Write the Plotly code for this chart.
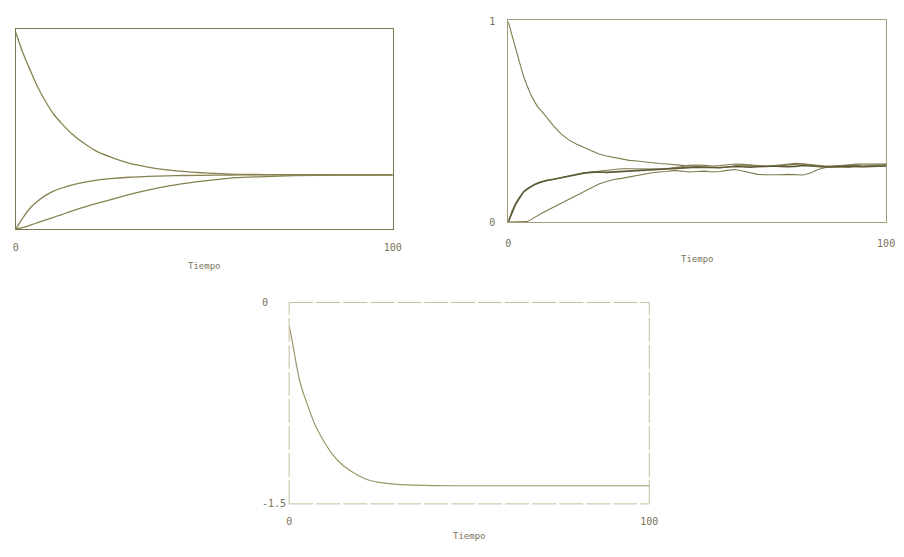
import plotly.graph_objects as go

# ---------------- data ----------------
# Panel 1
t1 = [0, 2, 4, 6, 8, 10, 12, 15, 18, 21, 25, 30, 35, 40, 45, 50, 55, 60, 70, 80, 90, 100]
p1_top = [1.0, 0.89, 0.80, 0.715, 0.645, 0.585, 0.54, 0.482, 0.437, 0.40, 0.367, 0.335,
          0.315, 0.301, 0.292, 0.285, 0.281, 0.278, 0.276, 0.275, 0.275, 0.275]
p1_mid = [0.0, 0.06, 0.11, 0.145, 0.172, 0.192, 0.207, 0.224, 0.237, 0.247, 0.256, 0.263,
          0.267, 0.270, 0.272, 0.273, 0.274, 0.275, 0.275, 0.275, 0.275, 0.275]
p1_low = [0.0, 0.008, 0.02, 0.033, 0.046, 0.059, 0.072, 0.092, 0.11, 0.127, 0.148, 0.175,
          0.198, 0.217, 0.232, 0.245, 0.255, 0.262, 0.269, 0.273, 0.274, 0.275]

# Panel 2
t2 = [0, 1, 2, 3, 4, 5, 6, 7, 8, 9, 10, 12, 14, 16, 18, 20, 22, 24, 26, 28, 30, 32, 34, 36,
      38, 40, 42, 44, 46, 48, 50, 52, 54, 56, 58, 60, 62, 64, 66, 68, 70, 72, 74, 76, 78,
      80, 82, 84, 86, 88, 90, 92, 94, 96, 98, 100]
p2_a = [1.0, 0.93, 0.86, 0.79, 0.73, 0.68, 0.635, 0.60, 0.57, 0.55, 0.525, 0.48, 0.44, 0.41,
        0.39, 0.372, 0.355, 0.34, 0.33, 0.322, 0.315, 0.308, 0.305, 0.30, 0.296, 0.292, 0.29,
        0.288, 0.283, 0.28, 0.278, 0.276, 0.272, 0.27, 0.275, 0.28, 0.285, 0.283, 0.278,
        0.276, 0.278, 0.282, 0.285, 0.288, 0.29, 0.284, 0.278, 0.276, 0.278, 0.282, 0.285,
        0.283, 0.28, 0.282, 0.285, 0.288]
p2_b = [0.0, 0.05, 0.09, 0.12, 0.15, 0.165, 0.178, 0.188, 0.196, 0.202, 0.207, 0.214, 0.222,
        0.23, 0.238, 0.244, 0.248, 0.25, 0.248, 0.25, 0.252, 0.255, 0.258, 0.26, 0.262, 0.265,
        0.266, 0.268, 0.27, 0.272, 0.274, 0.273, 0.271, 0.272, 0.275, 0.278, 0.276, 0.274,
        0.276, 0.279, 0.28, 0.278, 0.276, 0.278, 0.282, 0.28, 0.277, 0.275, 0.276, 0.279,
        0.28, 0.278, 0.276, 0.278, 0.28, 0.28]
p2_c = [0.0, 0.055, 0.095, 0.125, 0.148, 0.163, 0.176, 0.186, 0.194, 0.2, 0.205, 0.213, 0.222,
        0.231, 0.24, 0.246, 0.25, 0.254, 0.26, 0.264, 0.266, 0.266, 0.265, 0.265, 0.266, 0.265,
        0.266, 0.27, 0.277, 0.283, 0.285, 0.283, 0.28, 0.282, 0.286, 0.29, 0.288, 0.284, 0.28,
        0.279, 0.281, 0.285, 0.29, 0.293, 0.291, 0.287, 0.283, 0.28, 0.279, 0.281, 0.285,
        0.289, 0.291, 0.29, 0.289, 0.29]
p2_d = [0.0, 0.0, 0.0, 0.0, 0.0, 0.002, 0.012, 0.024, 0.035, 0.045, 0.055, 0.074, 0.094, 0.112,
        0.13, 0.148, 0.168, 0.19, 0.202, 0.212, 0.218, 0.225, 0.232, 0.24, 0.246, 0.25, 0.252,
        0.258, 0.255, 0.25, 0.252, 0.254, 0.25, 0.252, 0.258, 0.262, 0.255, 0.245, 0.238,
        0.236, 0.235, 0.236, 0.238, 0.236, 0.235, 0.245, 0.262, 0.272, 0.275, 0.274, 0.273,
        0.276, 0.278, 0.277, 0.278, 0.28]

# Panel 3
t3 = [0, 1, 2, 3, 4, 5, 6, 7, 8, 10, 12, 14, 16, 18, 20, 22, 25, 30, 35, 40, 50, 60, 80, 100]
p3 = [-0.17, -0.31, -0.46, -0.59, -0.68, -0.755, -0.83, -0.9, -0.955, -1.05, -1.13, -1.19,
      -1.235, -1.27, -1.30, -1.322, -1.34, -1.355, -1.361, -1.364, -1.365, -1.365, -1.365,
      -1.365]

x_ticks = [0, 100]
x_ticktext = ["0", "100"]
y2_ticks = [0, 1]
y2_ticktext = ["0", "1"]
y3_ticks = [-1.5, 0]
y3_ticktext = ["-1.5", "0\u00a0\u00a0\u00a0"]
x_title = "Tiempo"

# ---------------- figure ----------------
LINE1 = "#87824f"
LINE2 = "#7f7a4c"
DARK2 = "#5d5a36"
LINE3 = "#9c966a"
TXT = "#77735a"
FONT = "DejaVu Sans Mono"

fig = go.Figure()

for y in (p1_top, p1_mid, p1_low):
    fig.add_trace(go.Scatter(x=t1, y=y, mode="lines", line=dict(color=LINE1, width=1.3, shape="spline"),
                             xaxis="x", yaxis="y", showlegend=False, hoverinfo="skip"))

fig.add_trace(go.Scatter(x=t2, y=p2_a, mode="lines", line=dict(color=LINE2, width=1.1),
                         xaxis="x2", yaxis="y2", showlegend=False, hoverinfo="skip"))
fig.add_trace(go.Scatter(x=t2, y=p2_d, mode="lines", line=dict(color=LINE2, width=1.1),
                         xaxis="x2", yaxis="y2", showlegend=False, hoverinfo="skip"))
fig.add_trace(go.Scatter(x=t2, y=p2_c, mode="lines", line=dict(color=LINE2, width=1.1),
                         xaxis="x2", yaxis="y2", showlegend=False, hoverinfo="skip"))
fig.add_trace(go.Scatter(x=t2, y=p2_b, mode="lines", line=dict(color=DARK2, width=1.6),
                         xaxis="x2", yaxis="y2", showlegend=False, hoverinfo="skip"))

fig.add_trace(go.Scatter(x=t3, y=p3, mode="lines", line=dict(color=LINE3, width=1.2, shape="spline"),
                         xaxis="x3", yaxis="y3", showlegend=False, hoverinfo="skip"))

W, H = 904, 557

def dx(a, b):
    return [a / W, b / W]

def dy(top, bot):
    return [1 - bot / H, 1 - top / H]

tickfont = dict(family=FONT, size=10, color=TXT)
common_x = dict(range=[0, 100], tickvals=x_ticks, ticktext=x_ticktext, ticks="", showgrid=False,
                zeroline=False, tickfont=tickfont, mirror=True, fixedrange=True)

fig.update_layout(
    width=W, height=H, margin=dict(l=0, r=0, t=0, b=0),
    paper_bgcolor="white", plot_bgcolor="white",
    xaxis=dict(domain=dx(13, 395), anchor="y", showline=True, linecolor="#7a764e", linewidth=1.3,
               ticklabelstandoff=9, **common_x),
    yaxis=dict(domain=dy(24, 228), anchor="x", range=[0, 1.02], showline=True, linecolor="#7a764e",
               linewidth=1.3, mirror=True, showticklabels=False, ticks="", showgrid=False,
               zeroline=False),
    xaxis2=dict(domain=dx(512, 895), anchor="y2", showline=True, linecolor="#a19d78", linewidth=1,
                ticklabelstandoff=12, **common_x),
    yaxis2=dict(domain=dy(15, 221), anchor="x2", range=[0, 1.01], showline=True, linecolor="#a19d78",
                linewidth=1, mirror=True, tickvals=y2_ticks, ticktext=y2_ticktext, ticks="",
                tickfont=tickfont, ticklabelstandoff=10, showgrid=False, zeroline=False),
    xaxis3=dict(domain=dx(290, 655), anchor="y3", showline=False, ticklabelstandoff=10, **common_x),
    yaxis3=dict(domain=dy(303, 508), anchor="x3", range=[-1.5, 0], showline=False,
                tickvals=y3_ticks, ticktext=y3_ticktext, ticks="", tickfont=tickfont,
                ticklabelstandoff=2, showgrid=False, zeroline=False),
)

# faint broken frame for panel 3
for (x0, y0, x1, y1) in [(0, 0, 1, 0), (0, 1, 1, 1), (0, 0, 0, 1), (1, 0, 1, 1)]:
    fig.add_shape(type="line", xref="x3 domain", yref="y3 domain", x0=x0, y0=y0, x1=x1, y1=y1,
                  line=dict(color="#c4bf9c", width=1, dash="24px,3px"))

for ax, shift in [("", -44), ("2", -44), ("3", -39)]:
    fig.add_annotation(text=x_title, xref="x" + ax, yref=("y" + ax) + " domain" if ax else "y domain",
                       x=50, y=0, yshift=shift, showarrow=False,
                       font=dict(family=FONT, size=9, color=TXT))

fig.write_html("out.html")
